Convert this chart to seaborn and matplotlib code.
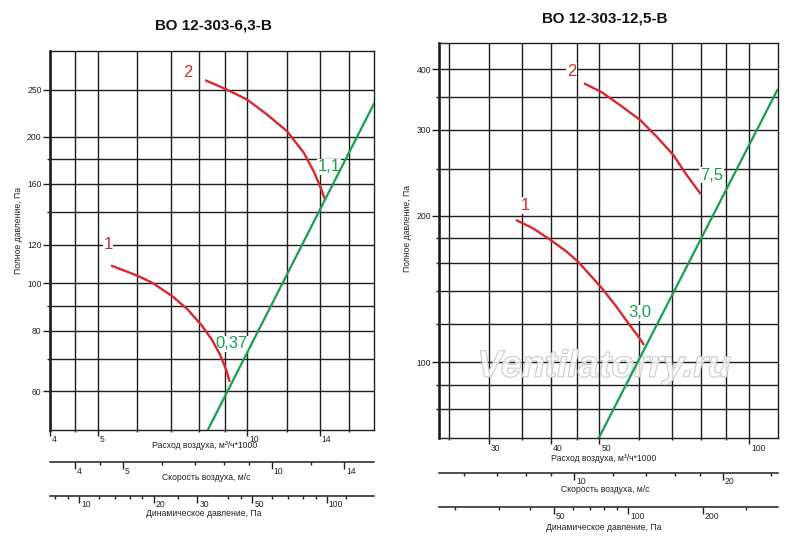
import matplotlib
matplotlib.use("Agg")
import matplotlib.pyplot as plt
import matplotlib.transforms as mtrans
from matplotlib.ticker import FixedLocator, NullFormatter, FixedFormatter
from matplotlib import font_manager
import matplotlib.patheffects as pe
import seaborn as sns

# ---------------- data ----------------
left_title = "ВО 12-303-6,3-В"
right_title = "ВО 12-303-12,5-В"

left_q_curve1 = [5.31, 5.99, 6.42, 7.05, 7.56, 8.08, 8.49, 8.82, 9.07, 9.21]
left_p_curve1 = [108.8, 103.8, 100.4, 94.2, 88.6, 82.1, 76.5, 71.2, 66.3, 62.8]
left_q_curve2 = [8.22, 9.03, 9.99, 10.96, 12.03, 13.0, 13.61, 14.0, 14.33]
left_p_curve2 = [261.3, 250.8, 238.4, 222.1, 205.2, 185.3, 169.7, 158.6, 149.0]
left_q_system = [8.32, 18.0]
left_p_system = [50.0, 234.0]

right_q_curve1 = [34.0, 36.8, 40.1, 43.0, 45.5, 47.9, 50.6, 53.8, 57.2, 59.9, 61.5]
right_p_curve1 = [196.0, 188.4, 177.7, 168.7, 160.2, 151.1, 141.9, 131.1, 120.2, 112.9, 108.5]
right_q_curve2 = [46.6, 50.6, 55.0, 60.4, 65.2, 70.4, 74.9, 79.9]
right_p_curve2 = [374.0, 358.4, 337.5, 314.5, 290.6, 266.5, 242.4, 221.6]
right_q_system = [49.9, 114.1]
right_p_system = [70.0, 363.6]

# curve labels: (text, q, p, kind)
left_labels = [("1", 5.24, 120, "red"), ("2", 7.6, 271, "red"),
               ("1,1", 14.6, 173.6, "green"), ("0,37", 9.31, 75.1, "green")]
right_labels = [("1", 35.5, 210, "red"), ("2", 44.0, 395.5, "red"),
                ("7,5", 84.0, 242.4, "green"), ("3,0", 60.4, 126.4, "green")]

# axis ticks
left_x_major = [4, 5, 10, 14]
left_x_minor = [4.5, 6, 7, 8, 9, 12, 16]
left_y_major = [60, 80, 100, 120, 160, 200, 250]
left_y_minor = [70, 90, 140, 180]
right_x_major = [30, 40, 50, 100]
right_x_minor = [25, 35, 45, 60, 70, 80, 90]
right_y_major = [100, 200, 300, 400]
right_y_minor = [80, 90, 120, 140, 160, 180, 250, 350]

left_vel_major = [4, 5, 10, 14]
left_vel_minor = [4.5, 6, 7, 8, 9, 12]
left_pd_major = [10, 20, 30, 50, 100]
left_pd_minor = [8, 9, 12, 14, 16, 18, 25, 40, 45, 60, 70, 80, 90, 120]
right_vel_major = [10, 20]
right_vel_minor = [6, 7, 8, 9, 12, 14, 16, 18, 25]
right_pd_major = [50, 100, 200]
right_pd_minor = [20, 30, 40, 60, 70, 80, 90, 300]

xlabel_flow = "Расход воздуха, м³/ч*1000"
xlabel_vel = "Скорость воздуха, м/с"
xlabel_pd = "Динамическое давление, Па"
ylabel = "Полное давление, Па"
watermark = "Ventilatorry.ru"

# ---------------- style ----------------
sns.set_style("white")
names = {f.name for f in font_manager.fontManager.ttflist}
narrow = "Liberation Sans Narrow" if "Liberation Sans Narrow" in names else "Liberation Sans"
small = 7 if narrow == "Liberation Sans Narrow" else 6.2
plt.rcParams["font.family"] = [narrow, "DejaVu Sans"]

RED = "#d7282c"
GREEN = "#1b9d4e"
GRID = "#1e1e1e"
TXT = "#222222"

W, H = 800, 540
fig = plt.figure(figsize=(8, 5.4), dpi=100)


def fx(px):
    return px / W


def fy(py):
    return 1 - py / H


def shift_labels(labels, dx_px, dy_px):
    off = mtrans.ScaledTranslation(dx_px / 100, dy_px / 100, fig.dpi_scale_trans)
    for lbl in labels:
        lbl.set_horizontalalignment("left")
        lbl.set_transform(lbl.get_transform() + off)


def main_axes(rect, xlim, ylim, xmaj, xmin, ymaj, ymin, curves, system, labels):
    ax = fig.add_axes(rect)
    ax.set_xscale("log")
    ax.set_yscale("log")
    for q, p in curves:
        sns.lineplot(x=q, y=p, sort=False, estimator=None, color=RED, lw=1.7, ax=ax,
                     zorder=3, solid_joinstyle="round", solid_capstyle="butt")
    sns.lineplot(x=system[0], y=system[1], sort=False, estimator=None, color=GREEN,
                 lw=1.6, ax=ax, zorder=3)
    ax.set_xlim(*xlim)
    ax.set_ylim(*ylim)
    ax.xaxis.set_major_locator(FixedLocator(xmaj))
    ax.xaxis.set_major_formatter(FixedFormatter([str(v) for v in xmaj]))
    ax.xaxis.set_minor_locator(FixedLocator(xmin))
    ax.xaxis.set_minor_formatter(NullFormatter())
    ax.yaxis.set_major_locator(FixedLocator(ymaj))
    ax.yaxis.set_major_formatter(FixedFormatter([str(v) for v in ymaj]))
    ax.yaxis.set_minor_locator(FixedLocator(ymin))
    ax.yaxis.set_minor_formatter(NullFormatter())
    ax.grid(True, which="both", color=GRID, lw=1.0)
    ax.set_axisbelow(True)
    ax.tick_params(axis="both", which="both", direction="out", color=GRID, labelsize=small,
                   labelcolor=TXT, width=1.0, bottom=True, left=True, top=False, right=False)
    ax.tick_params(axis="x", which="major", length=4.5, pad=0)
    ax.tick_params(axis="x", which="minor", length=1.5)
    ax.tick_params(axis="y", which="major", length=5, pad=1)
    ax.tick_params(axis="y", which="minor", length=2)
    for s in ax.spines.values():
        s.set_color(GRID)
        s.set_linewidth(1.0)
        s.set_visible(True)
    ax.spines["left"].set_linewidth(1.9)
    ax.set_xlabel("")
    ax.set_ylabel("")
    shift_labels(ax.get_xticklabels(), 2, 1)
    for txt, q, p, kind in labels:
        ax.text(q, p, txt, color=RED if kind == "red" else GREEN, fontsize=12,
                ha="center", va="center", zorder=2.8,
                bbox=dict(facecolor="white", edgecolor="none", pad=0.5))
    return ax


def scale_axis(x0, x1, py, xlim, major, minor):
    ax = fig.add_axes([fx(x0), fy(py), fx(x1 - x0), 0.0001])
    ax.set_xscale("log")
    ax.set_xlim(*xlim)
    ax.set_facecolor("none")
    for k in ("top", "left", "right"):
        ax.spines[k].set_visible(False)
    ax.spines["bottom"].set_visible(True)
    ax.spines["bottom"].set_color(GRID)
    ax.spines["bottom"].set_linewidth(1.1)
    ax.yaxis.set_visible(False)
    ax.xaxis.set_major_locator(FixedLocator(major))
    ax.xaxis.set_major_formatter(FixedFormatter([str(v) for v in major]))
    ax.xaxis.set_minor_locator(FixedLocator(minor))
    ax.xaxis.set_minor_formatter(NullFormatter())
    ax.tick_params(axis="x", which="both", direction="out", color=GRID, width=1.0,
                   labelsize=small, labelcolor=TXT, bottom=True, top=False)
    ax.tick_params(axis="x", which="major", length=5, pad=0)
    ax.tick_params(axis="x", which="minor", length=2.5)
    shift_labels(ax.get_xticklabels(), 2, 2)
    return ax


# ---------------- left chart ----------------
axL = main_axes([fx(50), fy(430), fx(324), 379 / H], (4, 18), (50, 300),
                left_x_major, left_x_minor, left_y_major, left_y_minor,
                [(left_q_curve1, left_p_curve1), (left_q_curve2, left_p_curve2)],
                (left_q_system, left_p_system), left_labels)
scale_axis(50, 374, 462.3, (3.56, 16.1), left_vel_major, left_vel_minor)
scale_axis(50, 374, 495.5, (7.63, 155), left_pd_major, left_pd_minor)

fig.text(fx(213), fy(26), left_title, fontsize=11, fontweight="bold",
         family=["Liberation Sans", "DejaVu Sans"], ha="center", va="center", color="#111111")
fig.text(fx(19), fy(230), ylabel, rotation=90, fontsize=small, ha="center", va="center", color=TXT)
fig.text(fx(205), fy(446), xlabel_flow, fontsize=small, ha="center", va="center", color=TXT)
fig.text(fx(206.7), fy(477), xlabel_vel, fontsize=small, ha="center", va="center", color=TXT)
fig.text(fx(204), fy(513.5), xlabel_pd, fontsize=small, ha="center", va="center", color=TXT)

# ---------------- right chart ----------------
axR = main_axes([fx(439.3), fy(438.3), fx(338.4), 395 / H], (23.85, 114.1), (69.8, 452),
                right_x_major, right_x_minor, right_y_major, right_y_minor,
                [(right_q_curve1, right_p_curve1), (right_q_curve2, right_p_curve2)],
                (right_q_system, right_p_system), right_labels)
scale_axis(439.3, 777.7, 472.5, (5.34, 25.8), right_vel_major, right_vel_minor)
scale_axis(439.3, 777.7, 506.7, (17.2, 402), right_pd_major, right_pd_minor)

fig.text(fx(605), fy(18.3), right_title, fontsize=11, fontweight="bold",
         family=["Liberation Sans", "DejaVu Sans"], ha="center", va="center", color="#111111")
fig.text(fx(408), fy(228), ylabel, rotation=90, fontsize=small, ha="center", va="center", color=TXT)
fig.text(fx(604), fy(458.5), xlabel_flow, fontsize=small, ha="center", va="center", color=TXT)
fig.text(fx(605.7), fy(490), xlabel_vel, fontsize=small, ha="center", va="center", color=TXT)
fig.text(fx(603.3), fy(527.5), xlabel_pd, fontsize=small, ha="center", va="center", color=TXT)

# watermark
axR.text(0.4867, 0.1813, watermark, transform=axR.transAxes, fontsize=27,
         family=["Liberation Sans", "DejaVu Sans"], fontweight="bold", style="italic",
         color=(1, 1, 1, 0.55), ha="center", va="center", zorder=2.5,
         path_effects=[pe.Stroke(linewidth=1.0, foreground="#c4c4c4"), pe.Normal()])

fig.savefig("out.png", dpi=100, facecolor="white")
